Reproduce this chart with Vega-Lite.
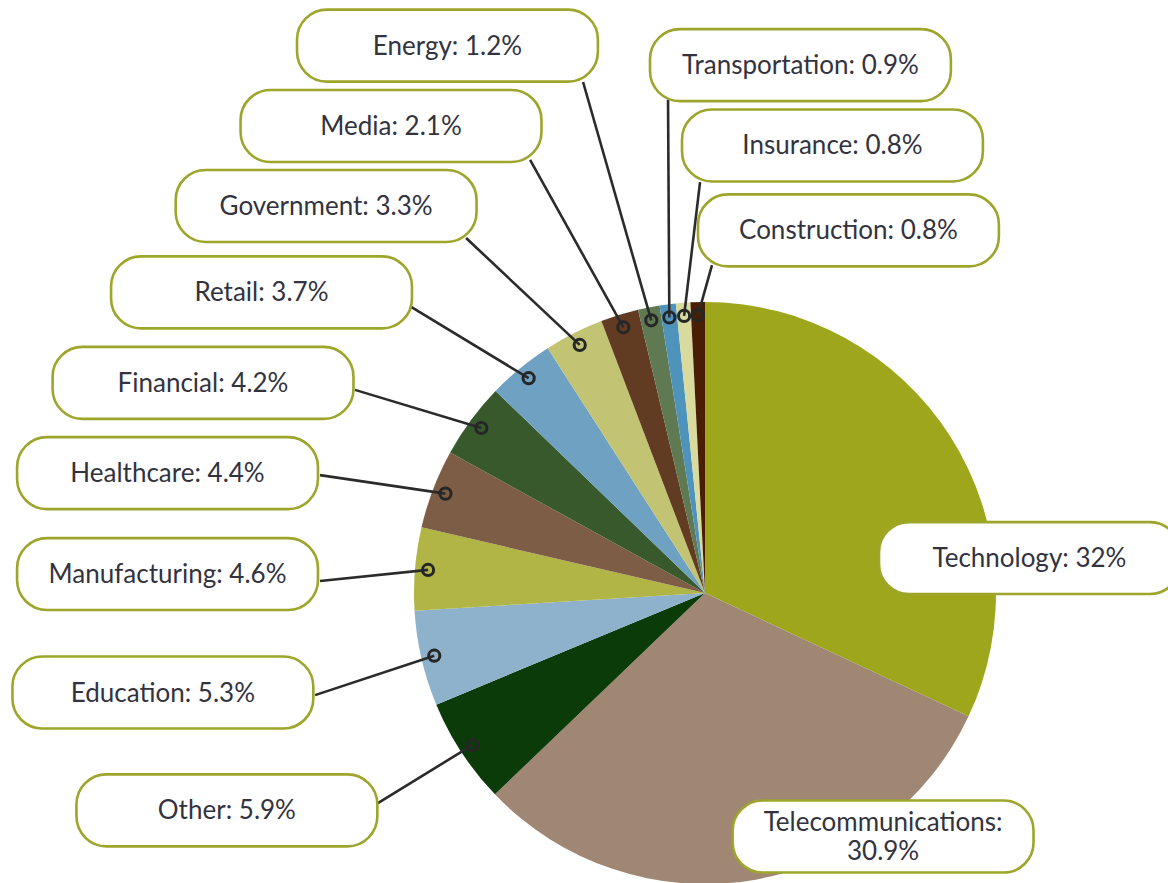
{
  "$schema": "https://vega.github.io/schema/vega-lite/v6.json",
  "width": 1168,
  "height": 883,
  "autosize": "none",
  "padding": 0,
  "background": "white",
  "config": {"view": {"stroke": null}},
  "datasets": {
    "callouts": [
      {"industry": "Technology", "bx": 1.115, "by": 0.120, "ex": null, "ey": null},
      {"industry": "Telecommunications", "bx": 0.612, "by": -0.837, "ex": null, "ey": null},
      {"industry": "Other", "bx": -1.643, "by": -0.747, "ex": -1.124, "ey": -0.722},
      {"industry": "Education", "bx": -1.863, "by": -0.342, "ex": -1.340, "ey": -0.351},
      {"industry": "Manufacturing", "bx": -1.847, "by": 0.065, "ex": -1.323, "ey": 0.041},
      {"industry": "Healthcare", "bx": -1.847, "by": 0.412, "ex": -1.323, "ey": 0.405},
      {"industry": "Financial", "bx": -1.725, "by": 0.722, "ex": -1.203, "ey": 0.698},
      {"industry": "Retail", "bx": -1.524, "by": 1.033, "ex": -1.010, "ey": 0.983},
      {"industry": "Government", "bx": -1.302, "by": 1.330, "ex": -0.821, "ey": 1.220},
      {"industry": "Media", "bx": -1.079, "by": 1.605, "ex": -0.601, "ey": 1.488},
      {"industry": "Energy", "bx": -0.885, "by": 1.881, "ex": -0.419, "ey": 1.756},
      {"industry": "Transportation", "bx": 0.328, "by": 1.814, "ex": -0.127, "ey": 1.694},
      {"industry": "Insurance", "bx": 0.438, "by": 1.538, "ex": -0.017, "ey": 1.412},
      {"industry": "Construction", "bx": 0.493, "by": 1.246, "ex": 0.024, "ey": 1.127}
    ]
  },
  "data": {
    "values": [
      {"industry": "Technology", "share": 32},
      {"industry": "Telecommunications", "share": 30.9},
      {"industry": "Other", "share": 5.9},
      {"industry": "Education", "share": 5.3},
      {"industry": "Manufacturing", "share": 4.6},
      {"industry": "Healthcare", "share": 4.4},
      {"industry": "Financial", "share": 4.2},
      {"industry": "Retail", "share": 3.7},
      {"industry": "Government", "share": 3.3},
      {"industry": "Media", "share": 2.1},
      {"industry": "Energy", "share": 1.2},
      {"industry": "Transportation", "share": 0.9},
      {"industry": "Insurance", "share": 0.8},
      {"industry": "Construction", "share": 0.8}
    ]
  },
  "transform": [
    {"window": [{"op": "row_number", "as": "idx"}]},
    {"stack": "share", "groupby": [], "sort": [{"field": "idx", "order": "ascending"}], "as": ["s0", "s1"]},
    {"lookup": "industry", "from": {"data": {"name": "callouts"}, "key": "industry", "fields": ["bx", "by", "ex", "ey"]}},
    {"calculate": "PI * (datum.s0 + datum.s1) / 100.1", "as": "mid"},
    {"calculate": "0.955 * sin(datum.mid)", "as": "dotx"},
    {"calculate": "0.955 * cos(datum.mid)", "as": "doty"},
    {"calculate": "datum.bx - 0.517", "as": "bx0"},
    {"calculate": "datum.bx + 0.517", "as": "bx1"},
    {"calculate": "datum.by - 0.1237", "as": "by0"},
    {"calculate": "datum.by + 0.1237", "as": "by1"},
    {"calculate": "datum.industry + ':' + (datum.industry === 'Telecommunications' ? '\\n' : ' ') + datum.share + '%'", "as": "label"}
  ],
  "layer": [
    {
      "mark": {"type": "arc", "radius": 291},
      "encoding": {
        "x": {"datum": 0, "type": "quantitative", "scale": {"domain": [-2.4227, 1.5911], "nice": false, "zero": false}, "axis": null},
        "y": {"datum": 0, "type": "quantitative", "scale": {"domain": [-0.9966, 2.0378], "nice": false, "zero": false}, "axis": null},
        "theta": {"field": "s0", "type": "quantitative", "stack": null, "scale": {"domain": [0, 100.1]}},
        "theta2": {"field": "s1"},
        "color": {
          "field": "industry",
          "type": "nominal",
          "legend": null,
          "scale": {
            "domain": ["Technology", "Telecommunications", "Other", "Education", "Manufacturing", "Healthcare", "Financial", "Retail", "Government", "Media", "Energy", "Transportation", "Insurance", "Construction"],
            "range": ["#9EA71B", "#A08774", "#0C3B0A", "#8EB2CC", "#B1B546", "#7E5D47", "#37592B", "#6EA1C2", "#C2C474", "#623C22", "#5F7A52", "#4E93BC", "#D8DA9E", "#4A1E04"]
          }
        }
      }
    },
    {
      "transform": [{"filter": "datum.ex != null"}],
      "mark": {"type": "rule", "color": "#2b2b2b", "strokeWidth": 2.6},
      "encoding": {
        "x": {"field": "dotx", "type": "quantitative", "axis": null},
        "y": {"field": "doty", "type": "quantitative", "axis": null},
        "x2": {"field": "ex"},
        "y2": {"field": "ey"}
      }
    },
    {
      "transform": [{"filter": "datum.ex != null"}],
      "mark": {"type": "point", "shape": "circle", "filled": false, "size": 125, "strokeWidth": 3, "color": "#262626", "opacity": 1},
      "encoding": {
        "x": {"field": "dotx", "type": "quantitative", "axis": null},
        "y": {"field": "doty", "type": "quantitative", "axis": null}
      }
    },
    {
      "mark": {"type": "rect", "fill": "white", "stroke": "#9DA52B", "strokeWidth": 2.6, "cornerRadius": 30},
      "encoding": {
        "x": {"field": "bx0", "type": "quantitative", "axis": null},
        "x2": {"field": "bx1"},
        "y": {"field": "by0", "type": "quantitative", "axis": null},
        "y2": {"field": "by1"}
      }
    },
    {
      "transform": [{"filter": "datum.industry !== 'Telecommunications'"}],
      "mark": {"type": "text", "font": "Lato", "fontSize": 26, "color": "#333340", "align": "center", "baseline": "middle", "dy": 1},
      "encoding": {
        "x": {"field": "bx", "type": "quantitative", "axis": null},
        "y": {"field": "by", "type": "quantitative", "axis": null},
        "text": {"field": "label"}
      }
    },
    {
      "transform": [{"filter": "datum.industry === 'Telecommunications'"}],
      "mark": {"type": "text", "font": "Lato", "fontSize": 26, "color": "#333340", "align": "center", "baseline": "middle", "lineBreak": "\n", "lineHeight": 29, "dy": -14},
      "encoding": {
        "x": {"field": "bx", "type": "quantitative", "axis": null},
        "y": {"field": "by", "type": "quantitative", "axis": null},
        "text": {"field": "label"}
      }
    }
  ]
}
